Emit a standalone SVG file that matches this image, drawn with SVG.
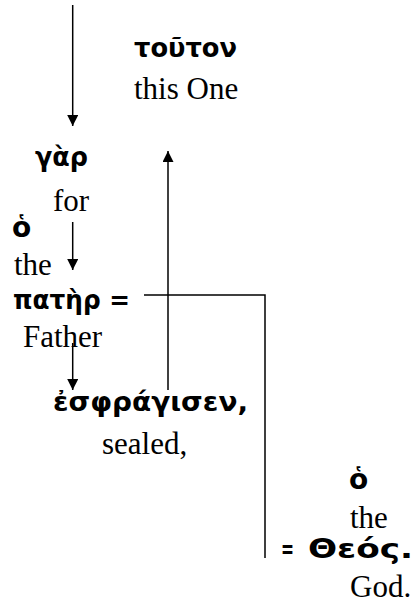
<svg xmlns="http://www.w3.org/2000/svg" width="416" height="606" viewBox="0 0 416 606">
<style>
.gk{font-family:"DejaVu Sans","Noto Sans",sans-serif;font-weight:bold;font-size:27px;fill:#000}
.en{font-family:"Liberation Serif","Times New Roman",serif;font-size:31px;fill:#000}
.ln{fill:none;stroke:#000;stroke-width:1.5}
</style>
<defs>
<marker id="ah" markerUnits="userSpaceOnUse" markerWidth="11" markerHeight="12" viewBox="0 0 11 12" refX="11" refY="5.5" orient="auto">
<path d="M0,0 L11,5.5 L0,11 z" fill="#000"/>
</marker>
</defs>
<rect width="416" height="606" fill="#fff"/>
<g id="connectors">
<path class="ln" d="M72.7,5 V126" marker-end="url(#ah)"/>
<path class="ln" d="M168,390 V151" marker-end="url(#ah)"/>
<path class="ln" d="M72.7,222 V270" marker-end="url(#ah)"/>
<path class="ln" d="M72.7,343 V390" marker-end="url(#ah)"/>
<path class="ln" d="M144,295 H265 V558"/>
</g>
<g id="n-touton">
<text class="gk" x="134" y="57" textLength="103" lengthAdjust="spacingAndGlyphs">τοῦτον</text>
<text class="en" x="134" y="99">this One</text>
</g>
<g id="n-gar">
<text class="gk" x="35" y="166" textLength="53" lengthAdjust="spacingAndGlyphs">γὰρ</text>
<text class="en" x="53" y="211">for</text>
</g>
<g id="n-ho1">
<text class="gk" x="12" y="237" style="font-size:28px">ὁ</text>
<text class="en" x="14" y="275">the</text>
</g>
<g id="n-pater">
<text class="gk" x="13" y="309" textLength="117" lengthAdjust="spacingAndGlyphs">πατὴρ =</text>
<text class="en" x="23" y="347">Father</text>
</g>
<g id="n-esphragisen">
<text class="gk" x="53" y="411" textLength="195" lengthAdjust="spacingAndGlyphs">ἐσφράγισεν,</text>
<text class="en" x="102" y="454">sealed,</text>
</g>
<g id="n-ho2">
<text class="gk" x="349" y="489" style="font-size:28px">ὁ</text>
<text class="en" x="350" y="528">the</text>
</g>
<g id="n-theos">
<text class="gk" x="281" y="558" textLength="13" lengthAdjust="spacingAndGlyphs">=</text>
<text class="gk" x="308" y="558" textLength="105" lengthAdjust="spacingAndGlyphs">Θεός.</text>
<text class="en" x="350" y="597">God.</text>
</g>
</svg>
